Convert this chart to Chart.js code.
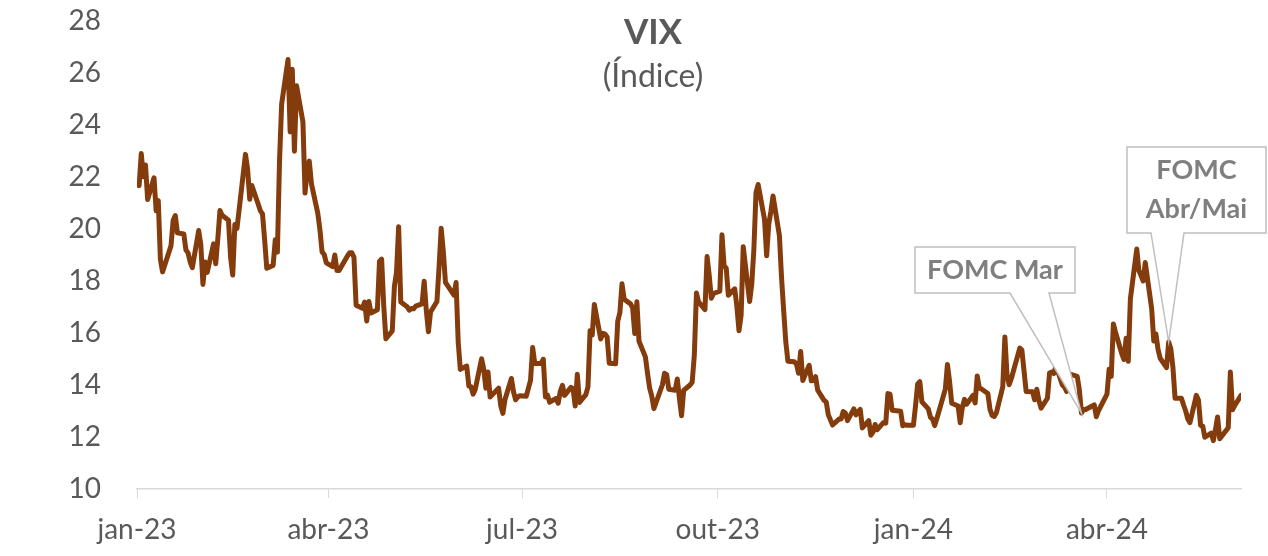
<!DOCTYPE html>
<html>
<head>
<meta charset="utf-8">
<script src="https://cdn.jsdelivr.net/npm/chart.js@4.4.1/dist/chart.umd.min.js"></script>
<style>
  html, body { margin: 0; padding: 0; background: #fff; }
  #wrap { width: 1268px; height: 556px; }
</style>
</head>
<body>
<div id="wrap"><canvas id="vixChart" width="1268" height="556"></canvas></div>
<script>
// VIX daily close, jan-23 to jun-24
const dates = [
  '2023-01-02','2023-01-03','2023-01-04','2023-01-05','2023-01-06','2023-01-09','2023-01-10','2023-01-11','2023-01-12','2023-01-13',
  '2023-01-17','2023-01-18','2023-01-19','2023-01-20','2023-01-23','2023-01-24','2023-01-25','2023-01-26','2023-01-27','2023-01-30','2023-01-31',
  '2023-02-01','2023-02-02','2023-02-03','2023-02-06','2023-02-07','2023-02-08','2023-02-09','2023-02-10','2023-02-13','2023-02-14',
  '2023-02-15','2023-02-16','2023-02-17','2023-02-21','2023-02-22','2023-02-23','2023-02-24','2023-02-27','2023-02-28',
  '2023-03-01','2023-03-02','2023-03-03','2023-03-06','2023-03-07','2023-03-08','2023-03-09','2023-03-10','2023-03-13','2023-03-14',
  '2023-03-15','2023-03-16','2023-03-17','2023-03-20','2023-03-21','2023-03-22','2023-03-23','2023-03-24','2023-03-27','2023-03-28',
  '2023-03-29','2023-03-30','2023-03-31',
  '2023-04-03','2023-04-04','2023-04-05','2023-04-06','2023-04-10','2023-04-11','2023-04-12','2023-04-13','2023-04-14','2023-04-17',
  '2023-04-18','2023-04-19','2023-04-20','2023-04-21','2023-04-24','2023-04-25','2023-04-26','2023-04-27','2023-04-28',
  '2023-05-01','2023-05-02','2023-05-03','2023-05-04','2023-05-05','2023-05-08','2023-05-09','2023-05-10','2023-05-11','2023-05-12',
  '2023-05-15','2023-05-16','2023-05-17','2023-05-18','2023-05-19','2023-05-22','2023-05-23','2023-05-24','2023-05-25','2023-05-26',
  '2023-05-30','2023-05-31',
  '2023-06-01','2023-06-02','2023-06-05','2023-06-06','2023-06-07','2023-06-08','2023-06-09','2023-06-12','2023-06-13','2023-06-14',
  '2023-06-15','2023-06-16','2023-06-20','2023-06-21','2023-06-22','2023-06-23','2023-06-26','2023-06-27','2023-06-28','2023-06-29','2023-06-30',
  '2023-07-03','2023-07-05','2023-07-06','2023-07-07','2023-07-10','2023-07-11','2023-07-12','2023-07-13','2023-07-14','2023-07-17',
  '2023-07-18','2023-07-19','2023-07-20','2023-07-21','2023-07-24','2023-07-25','2023-07-26','2023-07-27','2023-07-28','2023-07-31',
  '2023-08-01','2023-08-02','2023-08-03','2023-08-04','2023-08-07','2023-08-08','2023-08-09','2023-08-10','2023-08-11','2023-08-14',
  '2023-08-15','2023-08-16','2023-08-17','2023-08-18','2023-08-21','2023-08-22','2023-08-23','2023-08-24','2023-08-25','2023-08-28',
  '2023-08-29','2023-08-30','2023-08-31',
  '2023-09-01','2023-09-05','2023-09-06','2023-09-07','2023-09-08','2023-09-11','2023-09-12','2023-09-13','2023-09-14','2023-09-15',
  '2023-09-18','2023-09-19','2023-09-20','2023-09-21','2023-09-22','2023-09-25','2023-09-26','2023-09-27','2023-09-28','2023-09-29',
  '2023-10-02','2023-10-03','2023-10-04','2023-10-05','2023-10-06','2023-10-09','2023-10-10','2023-10-11','2023-10-12','2023-10-13',
  '2023-10-16','2023-10-17','2023-10-18','2023-10-19','2023-10-20','2023-10-23','2023-10-24','2023-10-25','2023-10-26','2023-10-27',
  '2023-10-30','2023-10-31',
  '2023-11-01','2023-11-02','2023-11-03','2023-11-06','2023-11-07','2023-11-08','2023-11-09','2023-11-10','2023-11-13','2023-11-14',
  '2023-11-15','2023-11-16','2023-11-17','2023-11-20','2023-11-21','2023-11-22','2023-11-24','2023-11-27','2023-11-28','2023-11-29','2023-11-30',
  '2023-12-01','2023-12-04','2023-12-05','2023-12-06','2023-12-07','2023-12-08','2023-12-11','2023-12-12','2023-12-13','2023-12-14',
  '2023-12-15','2023-12-18','2023-12-19','2023-12-20','2023-12-21','2023-12-22','2023-12-26','2023-12-27','2023-12-28','2023-12-29',
  '2024-01-01','2024-01-02','2024-01-03','2024-01-04','2024-01-05','2024-01-08','2024-01-09','2024-01-10','2024-01-11','2024-01-12',
  '2024-01-16','2024-01-17','2024-01-18','2024-01-19','2024-01-22','2024-01-23','2024-01-24','2024-01-25','2024-01-26','2024-01-29',
  '2024-01-30','2024-01-31',
  '2024-02-01','2024-02-02','2024-02-05','2024-02-06','2024-02-07','2024-02-08','2024-02-09','2024-02-12','2024-02-13','2024-02-14',
  '2024-02-15','2024-02-16','2024-02-20','2024-02-21','2024-02-22','2024-02-23','2024-02-26','2024-02-27','2024-02-28','2024-02-29',
  '2024-03-01','2024-03-04','2024-03-05','2024-03-06','2024-03-07','2024-03-08','2024-03-11','2024-03-12','2024-03-13','2024-03-14',
  '2024-03-15','2024-03-18','2024-03-19','2024-03-20','2024-03-21','2024-03-22','2024-03-25','2024-03-26','2024-03-27','2024-03-28',
  '2024-04-01','2024-04-02','2024-04-03','2024-04-04','2024-04-05','2024-04-08','2024-04-09','2024-04-10','2024-04-11','2024-04-12',
  '2024-04-15','2024-04-16','2024-04-17','2024-04-18','2024-04-19','2024-04-22','2024-04-23','2024-04-24','2024-04-25','2024-04-26',
  '2024-04-29','2024-04-30',
  '2024-05-01','2024-05-02','2024-05-03','2024-05-06','2024-05-07','2024-05-08','2024-05-09','2024-05-10','2024-05-13','2024-05-14',
  '2024-05-15','2024-05-16','2024-05-17','2024-05-20','2024-05-21','2024-05-22','2024-05-23','2024-05-24','2024-05-28','2024-05-29',
  '2024-05-30','2024-05-31',
  '2024-06-03'
]

const vix = [
  21.67, 22.90, 22.01, 22.46, 21.13, 21.97, 20.70, 21.09, 18.83, 18.35,
  19.36, 20.34, 20.52, 19.85, 19.81, 19.20, 19.08, 18.73, 18.51, 19.94, 19.40,
  17.87, 18.73, 18.33, 19.43, 18.66, 19.63, 20.71, 20.53, 20.34, 18.91,
  18.23, 20.17, 20.02, 22.87, 22.29, 21.14, 21.67, 20.95, 20.70,
  20.58, 19.59, 18.49, 18.60, 19.59, 19.11, 22.61, 24.80, 26.52, 23.73,
  26.14, 22.99, 25.51, 24.12, 21.38, 22.26, 22.61, 21.74, 20.60, 19.97,
  19.12, 19.02, 18.70,
  18.55, 19.00, 18.40, 18.40, 18.97, 19.09, 19.09, 18.91, 17.07, 16.95,
  17.19, 16.46, 17.21, 16.77, 16.89, 18.76, 18.84, 17.03, 15.78,
  16.08, 17.78, 18.34, 20.09, 17.19, 17.01, 16.88, 16.94, 16.93, 17.03,
  17.12, 17.99, 16.87, 16.05, 16.81, 17.21, 18.53, 20.03, 19.14, 17.95,
  17.46, 17.94,
  15.65, 14.60, 14.73, 13.96, 13.94, 13.65, 13.83, 15.01, 14.61, 13.88,
  14.50, 13.54, 13.88, 13.20, 12.91, 13.44, 14.25, 13.74, 13.43, 13.54, 13.59,
  13.57, 14.18, 15.44, 14.83, 14.84, 14.99, 13.54, 13.61, 13.34, 13.48,
  13.30, 13.76, 13.99, 13.60, 13.91, 13.86, 13.19, 14.41, 13.33, 13.63,
  13.93, 16.09, 15.92, 17.10, 15.77, 15.99, 15.96, 15.85, 14.84, 14.82,
  16.46, 16.78, 17.89, 17.30, 17.12, 16.97, 15.98, 17.20, 15.68, 15.08,
  14.45, 13.88, 13.57,
  13.09, 14.01, 14.45, 14.40, 13.84, 13.80, 14.23, 13.48, 12.82, 13.79,
  14.00, 14.11, 15.14, 17.54, 17.20, 16.90, 18.94, 18.22, 17.34, 17.52,
  17.61, 19.78, 18.58, 18.49, 17.45, 17.70, 17.03, 16.09, 16.69, 19.32,
  17.21, 17.88, 19.22, 21.40, 21.71, 20.37, 18.97, 20.19, 20.68, 21.27,
  19.75, 18.14,
  16.87, 15.66, 14.91, 14.89, 14.81, 14.45, 15.29, 14.17, 14.76, 14.16,
  14.18, 14.32, 13.80, 13.41, 13.35, 12.85, 12.46, 12.69, 12.69, 12.98, 12.92,
  12.63, 13.08, 12.85, 12.97, 13.06, 12.35, 12.63, 12.07, 12.19, 12.48,
  12.28, 12.56, 12.53, 13.67, 13.65, 13.03, 12.99, 12.43, 12.47, 12.45,
  12.45, 13.20, 14.04, 14.13, 13.35, 13.08, 12.76, 12.69, 12.44, 12.70,
  13.84, 14.79, 14.13, 13.30, 13.19, 12.55, 13.14, 13.45, 13.26, 13.60,
  13.31, 14.35,
  13.88, 13.85, 13.67, 13.06, 12.83, 12.79, 12.93, 13.93, 15.85, 14.38,
  14.01, 14.24, 15.42, 15.34, 14.54, 13.75, 13.74, 13.43, 13.84, 13.40,
  13.11, 13.49, 14.46, 14.50, 14.44, 14.74, 14.00, 13.93, 13.75, 14.40,
  14.41, 14.33, 13.82, 12.92, 13.06, 13.06, 13.19, 13.24, 12.78, 13.01,
  13.65, 14.61, 14.33, 16.35, 16.03, 15.19, 14.98, 15.80, 14.91, 17.31,
  19.23, 18.40, 18.21, 18.00, 18.71, 16.94, 15.69, 15.97, 15.37, 15.03,
  14.67, 15.65,
  15.39, 14.68, 13.49, 13.49, 13.23, 13.00, 12.69, 12.55, 13.60, 13.42,
  12.45, 12.42, 11.99, 12.15, 11.86, 12.29, 12.77, 11.93, 12.36, 14.50,
  13.05, 13.20,
  13.60
]

const tickDates = ['2023-01-01', '2023-04-01', '2023-07-01', '2023-10-01', '2024-01-01', '2024-04-01']
const tickLabels = ['jan-23', 'abr-23', 'jul-23', 'out-23', 'jan-24', 'abr-24']

const callouts = [
  { date: '2024-03-20', lines: ['FOMC Mar'], box: [915, 247, 1075, 293], base: [1010, 1049] },
  { date: '2024-04-30', lines: ['FOMC', 'Abr/Mai'], box: [1127, 147, 1266, 233], base: [1151, 1184] }
]

const dayZero = Date.UTC(2023, 0, 1)
function dayOf(iso) {
  const p = iso.split('-').map(Number)
  return Math.round((Date.UTC(p[0], p[1] - 1, p[2]) - dayZero) / 86400000)
}

const points = dates.map((d, i) => ({ x: dayOf(d), y: vix[i] }))
const tickValues = tickDates.map(dayOf)

const textColor = '#595959'
const fontFamily = 'Lato, "Open Sans", sans-serif'

const titlePlugin = {
  id: 'vixTitle',
  afterDraw(chart) {
    const ctx = chart.ctx
    ctx.save()
    ctx.fillStyle = textColor
    ctx.textAlign = 'center'
    ctx.textBaseline = 'middle'
    ctx.font = `bold 35px ${fontFamily}`
    ctx.fillText('VIX', 653, 33)
    ctx.font = `32px ${fontFamily}`
    ctx.fillText('(Índice)', 653, 77)
    ctx.restore()
  }
}

const calloutPlugin = {
  id: 'fomcCallouts',
  afterDatasetsDraw(chart) {
    const ctx = chart.ctx
    const xs = chart.scales.x
    const ys = chart.scales.y
    ctx.save()
    callouts.forEach(c => {
      const idx = dates.indexOf(c.date)
      const ax = xs.getPixelForValue(dayOf(c.date))
      const ay = ys.getPixelForValue(vix[idx])
      const [l, t, r, b] = c.box
      ctx.beginPath()
      ctx.moveTo(l, t)
      ctx.lineTo(r, t)
      ctx.lineTo(r, b)
      ctx.lineTo(c.base[1], b)
      ctx.lineTo(ax, ay)
      ctx.lineTo(c.base[0], b)
      ctx.lineTo(l, b)
      ctx.closePath()
      ctx.fillStyle = '#ffffff'
      ctx.fill()
      ctx.strokeStyle = '#bfbfbf'
      ctx.lineWidth = 1.5
      ctx.stroke()

      ctx.fillStyle = '#7f7f7f'
      ctx.font = `bold 27px ${fontFamily}`
      ctx.textAlign = 'center'
      ctx.textBaseline = 'middle'
      const cx = (l + r) / 2
      const lh = 39
      const y0 = (t + b) / 2 - (c.lines.length - 1) * lh / 2
      c.lines.forEach((txt, i) => ctx.fillText(txt, cx, y0 + i * lh))
    })
    ctx.restore()
  }
}

new Chart(document.getElementById('vixChart').getContext('2d'), {
  type: 'line',
  data: {
    datasets: [{
      label: 'VIX',
      data: points,
      borderColor: '#843c0c',
      borderWidth: 5,
      borderJoinStyle: 'round',
      borderCapStyle: 'round',
      pointRadius: 0,
      tension: 0,
      fill: false
    }]
  },
  options: {
    responsive: false,
    animation: false,
    layout: { padding: { top: 21, right: 27, bottom: 0, left: 0 } },
    plugins: {
      legend: { display: false },
      tooltip: { enabled: false },
      title: { display: false }
    },
    scales: {
      x: {
        type: 'linear',
        min: 0,
        max: dayOf(dates[dates.length - 1]),
        afterBuildTicks: axis => {
          axis.ticks = tickValues.map(v => ({ value: v }))
        },
        afterFit: axis => {
          axis.height = 67
          axis.paddingLeft = 0
          axis.paddingRight = 0
        },
        ticks: {
          autoSkip: false,
          maxRotation: 0,
          color: textColor,
          font: { family: fontFamily, size: 28 },
          padding: 15,
          callback: v => tickLabels[tickValues.indexOf(v)]
        },
        grid: {
          drawOnChartArea: false,
          drawTicks: true,
          tickLength: 9,
          color: '#d9d9d9'
        },
        border: { display: true, color: '#d9d9d9', width: 1.5 }
      },
      y: {
        min: 10,
        max: 28,
        afterFit: axis => {
          axis.width = 137
          axis.paddingTop = 0
          axis.paddingBottom = 0
        },
        ticks: {
          stepSize: 2,
          color: textColor,
          font: { family: fontFamily, size: 28 },
          padding: 36
        },
        grid: { display: false, drawTicks: false },
        border: { display: false }
      }
    }
  },
  plugins: [titlePlugin, calloutPlugin]
})
</script>
</body>
</html>
